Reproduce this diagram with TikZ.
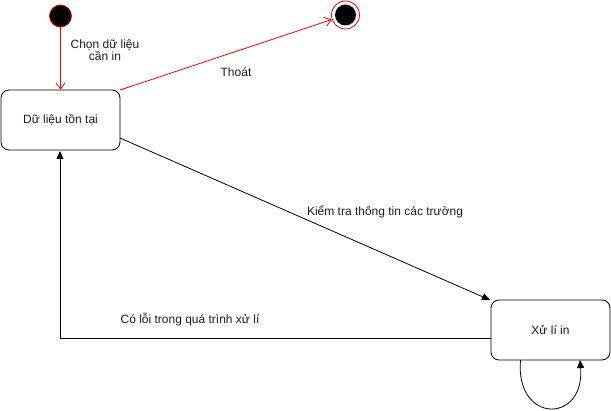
\documentclass[tikz,border=0pt]{standalone}
\usepackage{fontspec}
\setmainfont{Liberation Sans}
\usetikzlibrary{arrows.meta}
\definecolor{redline}{RGB}{255,0,0}
\definecolor{txt}{RGB}{30,30,30}
\begin{document}
\begin{tikzpicture}[x=1pt,y=-1pt,line width=0.8pt,
  state/.style={draw,rounded corners=8pt,minimum width=119pt,minimum height=60pt,font=\fontsize{12}{14}\selectfont,text=txt,inner sep=0pt},
  lbl/.style={font=\fontsize{12}{14}\selectfont,align=center,text=txt},
  redarr/.style={draw=redline,-{Straight Barb[length=6pt,width=9pt]}},
  blkarr/.style={draw=black,-{Triangle[length=8pt,width=7pt]}}]
\useasboundingbox (0,0) rectangle (611,411);
\node[circle,fill=black,draw=redline,minimum size=22pt,inner sep=0pt] (start) at (60.5,16) {};
\node[circle,draw=redline,minimum size=28pt,inner sep=0pt] (endo) at (345.5,15) {};
\node[circle,fill=black,minimum size=21pt,inner sep=0pt] (endi) at (345.5,15) {};
\node[state] (d) at (60.5,120) {Dữ liệu tồn tại};
\node[state] (x) at (550.5,330) {Xử lí in};
\coordinate (dtr) at (120,90);
\coordinate (dr) at (120,138);
\coordinate (xtl) at (490,300);
\coordinate (corner) at (60,338);
\draw[redarr] (start) -- (d.north -| start);
\node[lbl] (l1) at (105,50) {Chọn dữ liệu\\[-2pt]cần in};
\draw[redarr] (dtr) -- (endo);
\node[lbl] (l2) at (236,72) {Thoát};
\draw[blkarr] (x.west |- corner) -- (corner) -- (60,151);
\node[lbl] (l3) at (385,212) {Kiểm tra thông tin các trường};
\draw[blkarr] (dr) -- (xtl);
\node[lbl] (l4) at (190,320) {Có lỗi trong quá trình xử lí};
\draw[blkarr] (520.5,360) .. controls (515,424) and (585,424) .. (580,360);
\end{tikzpicture}
\end{document}
